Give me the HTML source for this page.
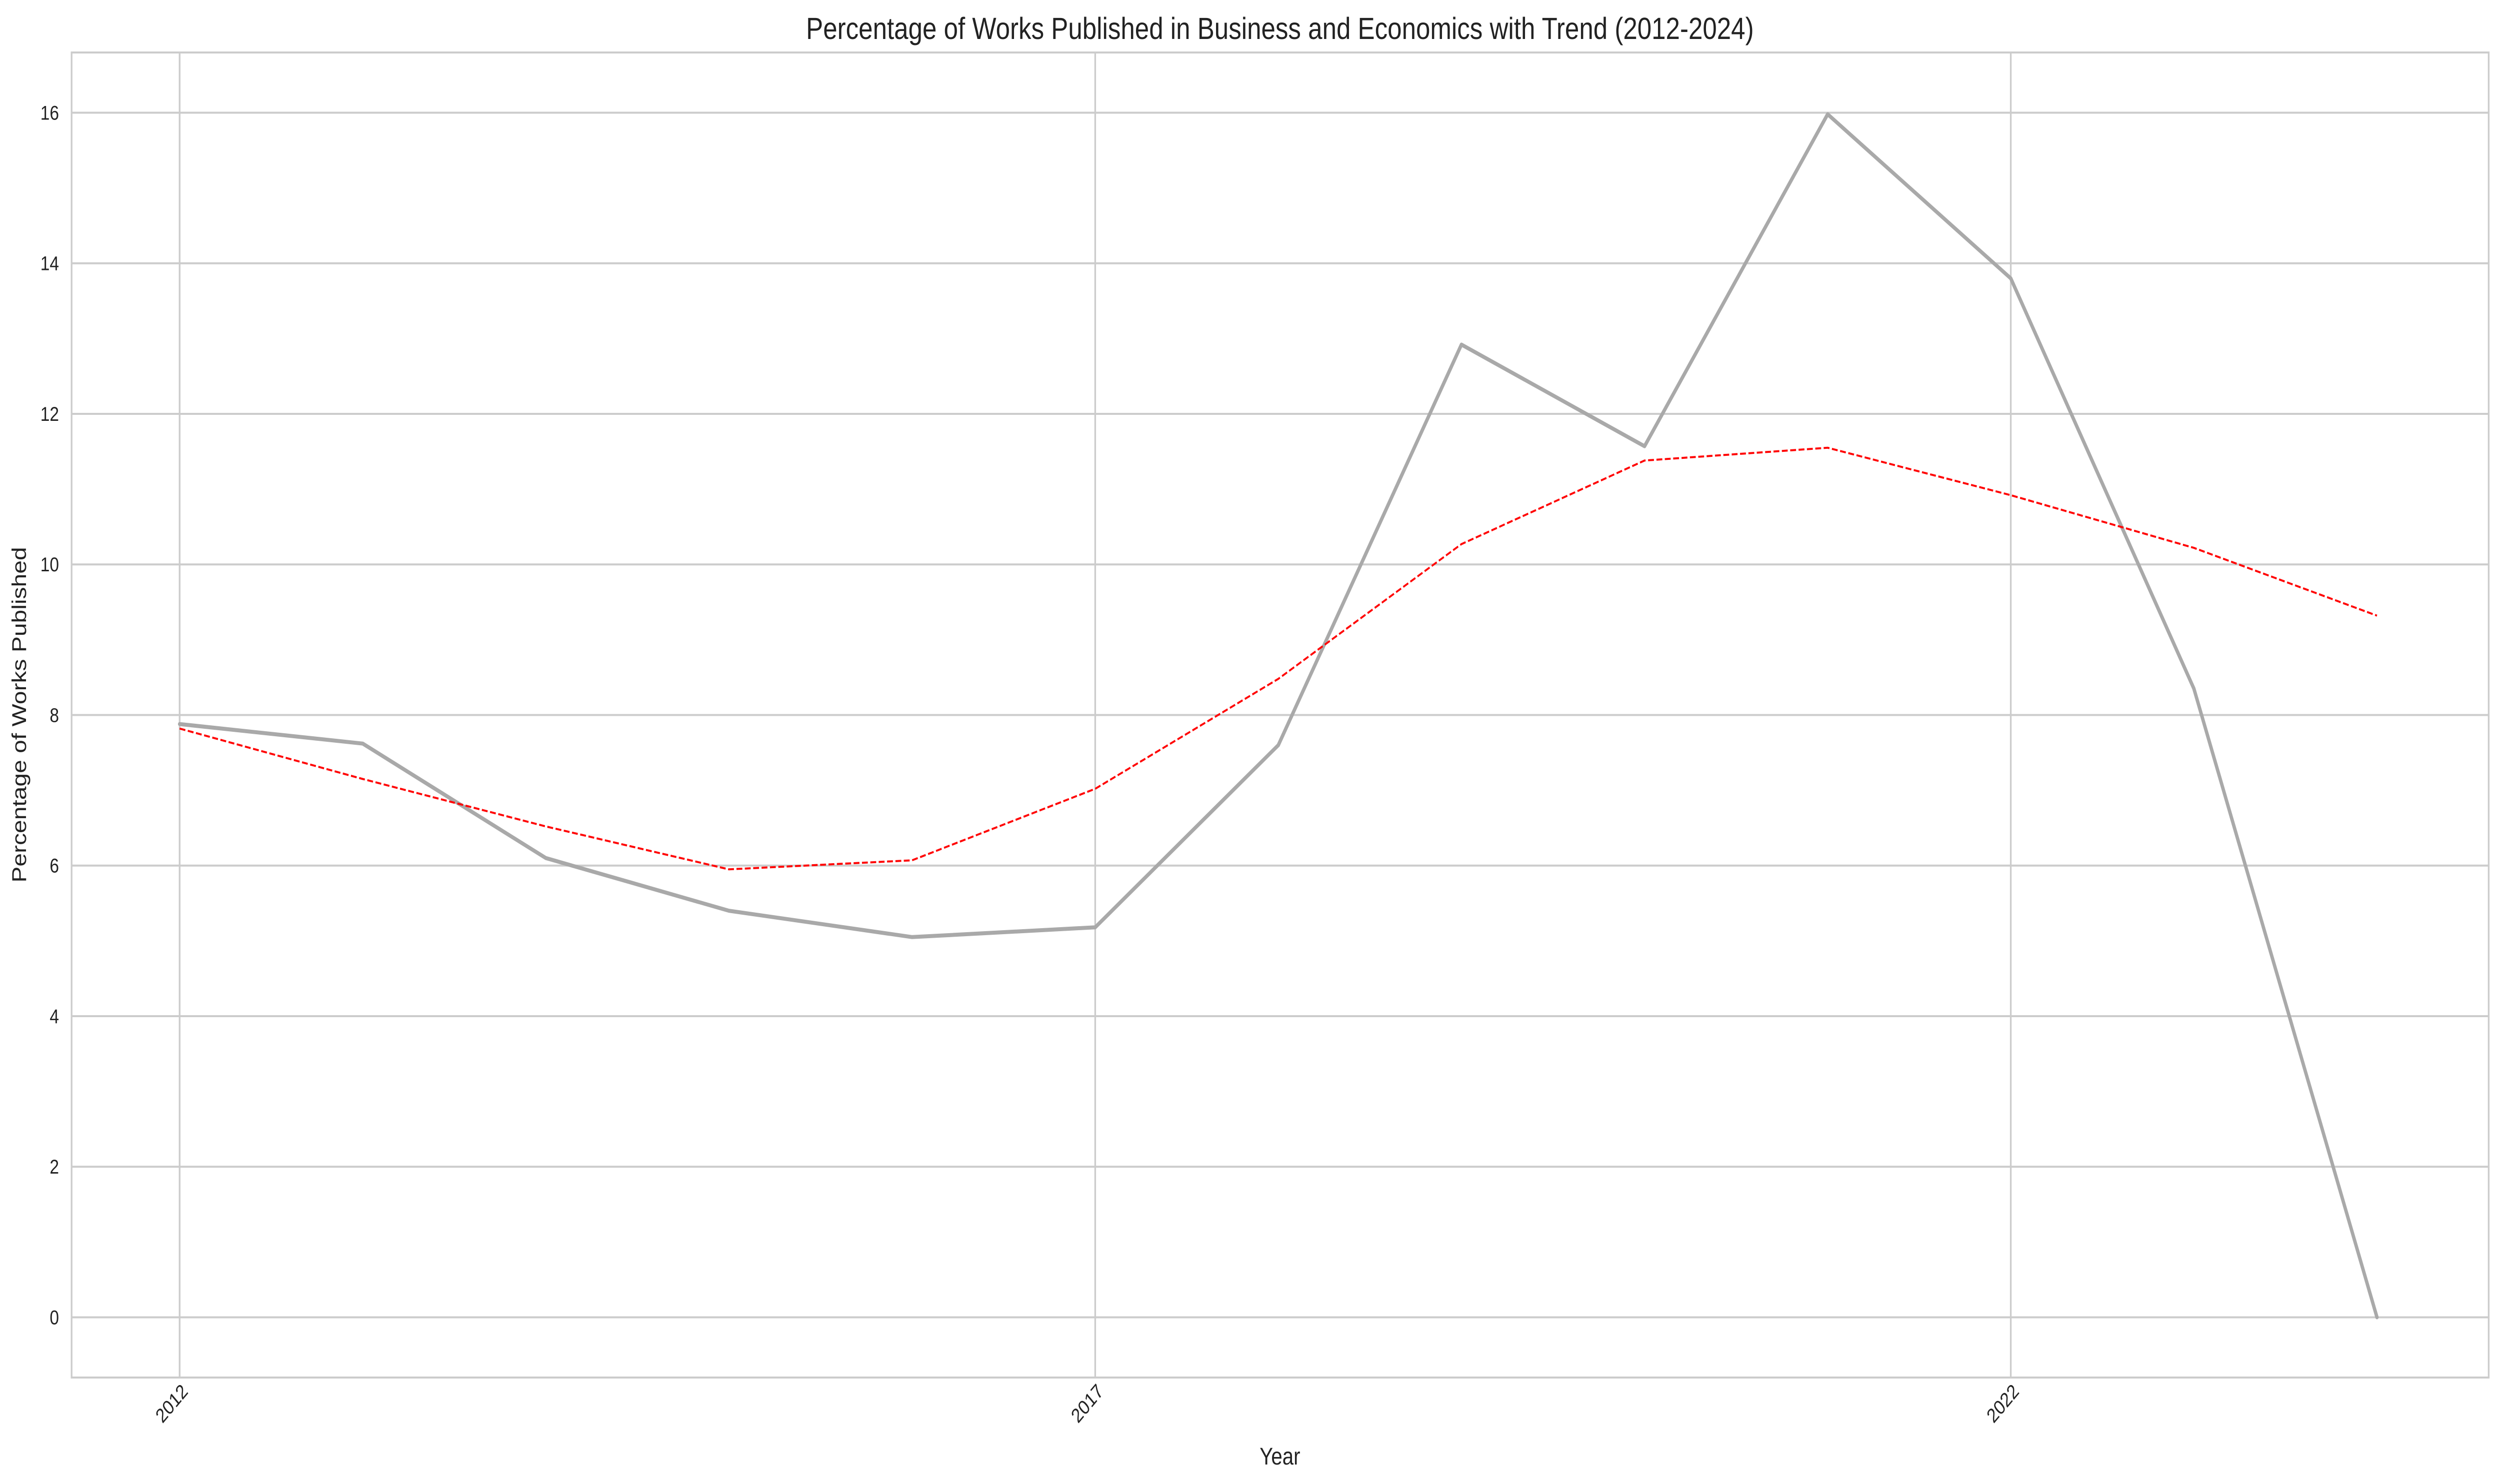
<!DOCTYPE html>
<html><head><meta charset="utf-8">
<style>
html,body{margin:0;padding:0;background:#fff;width:100%;height:100%;overflow:hidden;}
svg{display:block;position:fixed;left:0;top:0;width:100vw;height:100vh;font-family:"Liberation Sans",Arial,sans-serif;}
</style></head>
<body>
<svg id="chart" viewBox="0 0 5971 2969" preserveAspectRatio="none" xmlns="http://www.w3.org/2000/svg">
<rect width="5971" height="2969" fill="#fff"/>
<g id="grid"></g>
<g id="series"></g>
<rect x="171" y="105" width="5773" height="2651" fill="none" stroke="#cccccc" stroke-width="4"/>
<g id="ticks"></g>
<text x="3057" y="78" font-size="61" text-anchor="middle" fill="#222">Percentage of Works Published in Business and Economics with Trend (2012-2024)</text>
<text x="3057" y="2930" font-size="48" text-anchor="middle" fill="#222">Year</text>
<text transform="translate(62,1430) rotate(-90)" font-size="48" text-anchor="middle" fill="#222">Percentage of Works Published</text>
</svg>
<script>
const years = [2012,2013,2014,2015,2016,2017,2018,2019,2020,2021,2022,2023,2024];
const percentValues = [7.88,7.62,6.1,5.4,5.05,5.18,7.6,12.92,11.57,15.98,13.8,8.35,0];
const trendValues = [7.82,7.15,6.52,5.95,6.07,7.02,8.48,10.27,11.38,11.55,10.92,10.22,9.32];
const yTicks = [0,2,4,6,8,10,12,14,16];
const xTicks = [2012,2017,2022];

const L=171,R=5944,T=105,B=2756;
const xMin=2011.41,xMax=2024.61,yMin=-0.8,yMax=16.8;
function xs(v){return L+(v-xMin)/(xMax-xMin)*(R-L);}
function ys(v){return B-(v-yMin)/(yMax-yMin)*(B-T);}
const NS="http://www.w3.org/2000/svg";
const grid=document.getElementById('grid'),ticks=document.getElementById('ticks'),series=document.getElementById('series');
yTicks.forEach(t=>{
  const l=document.createElementNS(NS,'line');
  
  
  l.setAttribute('x1',L);l.setAttribute('x2',R);l.setAttribute('y1',ys(t));l.setAttribute('y2',ys(t));
  l.setAttribute('stroke','#cccccc');l.setAttribute('stroke-width','4');
  grid.appendChild(l);
  const tx=document.createElementNS(NS,'text');
  
  
  tx.setAttribute('x',L-30);tx.setAttribute('y',ys(t)+14);
  tx.setAttribute('font-size','40');tx.setAttribute('text-anchor','end');tx.setAttribute('fill','#222');
  tx.textContent=t;ticks.appendChild(tx);
});
xTicks.forEach(t=>{
  const l=document.createElementNS(NS,'line');
  
  
  l.setAttribute('x1',xs(t));l.setAttribute('x2',xs(t));l.setAttribute('y1',T);l.setAttribute('y2',B);
  l.setAttribute('stroke','#cccccc');l.setAttribute('stroke-width','4');
  grid.appendChild(l);
  const tx=document.createElementNS(NS,'text');
  
  
  tx.setAttribute('transform','translate('+(xs(t)+22)+','+(B+30)+') rotate(-45)');
  tx.setAttribute('font-size','40');tx.setAttribute('text-anchor','end');tx.setAttribute('fill','#222');
  tx.textContent=t;ticks.appendChild(tx);
});
function path(vals){return vals.map((v,i)=>(i?'L':'M')+xs(years[i]).toFixed(1)+' '+ys(v).toFixed(1)).join(' ');}
const p1=document.createElementNS(NS,'path');


p1.setAttribute('d',path(percentValues));
p1.setAttribute('fill','none');p1.setAttribute('stroke','#a9a9a9');p1.setAttribute('stroke-width','8');
p1.setAttribute('stroke-linecap','round');p1.setAttribute('stroke-linejoin','round');
series.appendChild(p1);
const p2=document.createElementNS(NS,'path');


p2.setAttribute('d',path(trendValues));
p2.setAttribute('fill','none');p2.setAttribute('stroke','#ff0000');p2.setAttribute('stroke-width','4');
p2.setAttribute('stroke-dasharray','14 6');
series.appendChild(p2);
</script>
</body></html>
